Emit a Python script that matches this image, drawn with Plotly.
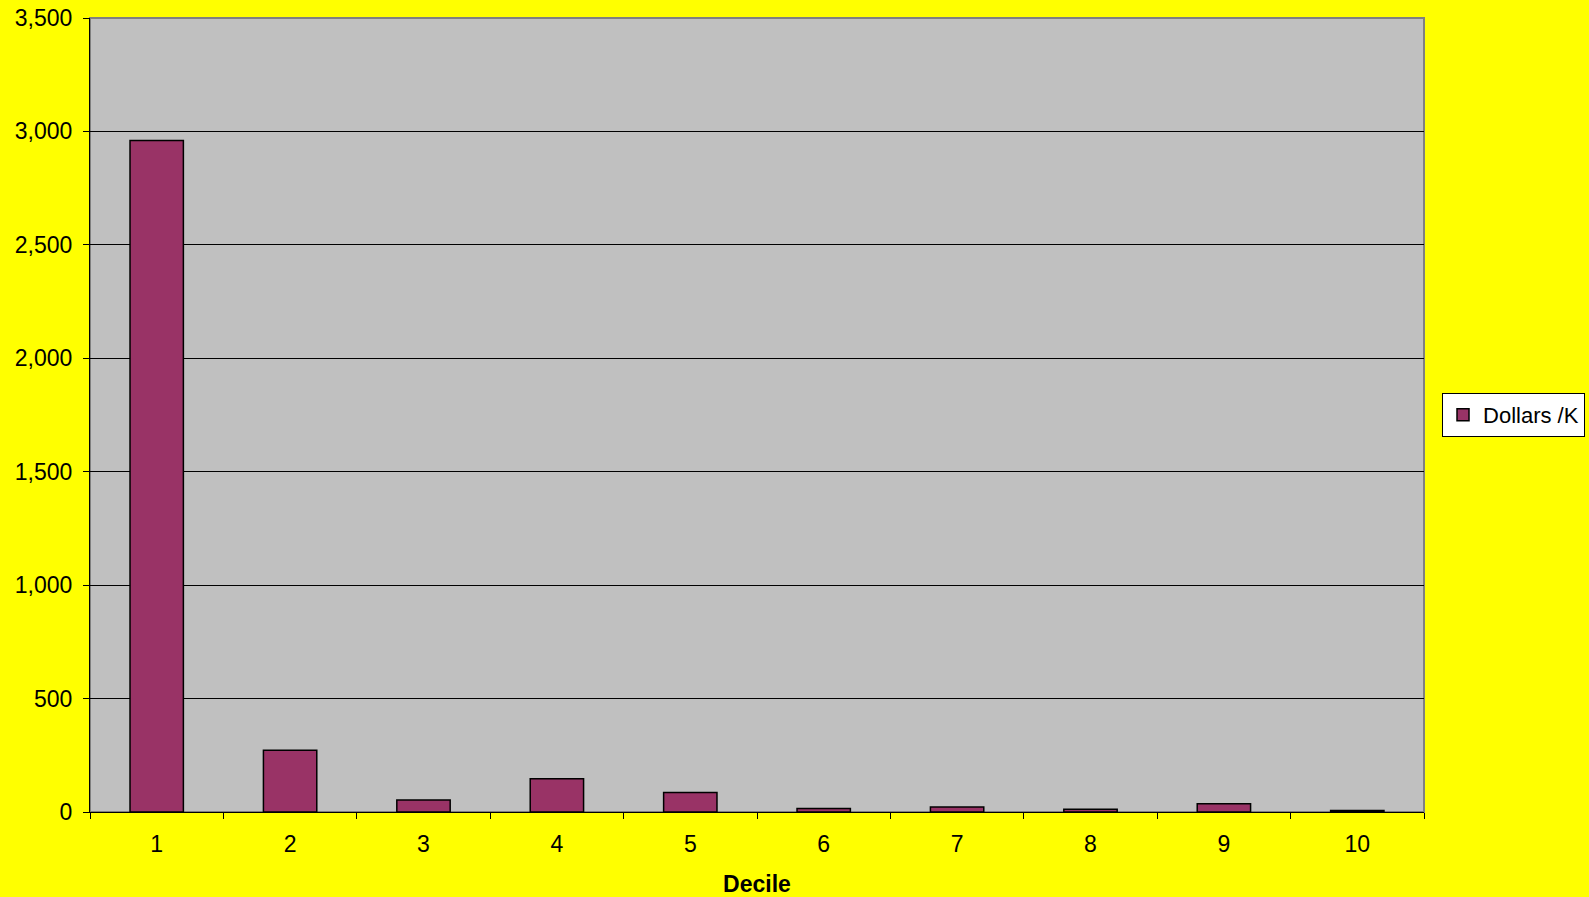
import plotly.graph_objects as go

categories = ["1", "2", "3", "4", "5", "6", "7", "8", "9", "10"]
values = [2960, 272, 53, 147, 86, 15, 22, 12, 36, 7]
series_name = "Dollars /K"
y_ticks = [0, 500, 1000, 1500, 2000, 2500, 3000, 3500]

fig = go.Figure()
fig.add_trace(go.Bar(
    x=categories, y=values, name=series_name,
    marker=dict(color="#993366", line=dict(color="#000000", width=1.5)),
))

fig.update_layout(
    width=1589, height=897,
    paper_bgcolor="#FFFF00", plot_bgcolor="#C0C0C0",
    margin=dict(l=90, r=165, t=18, b=85, autoexpand=False),
    bargap=0.6,
    font=dict(family="Liberation Sans, Arial, sans-serif", size=23, color="#000000"),
    showlegend=True,
    legend=dict(x=1.0135, y=0.5, xanchor="left", yanchor="middle",
                bgcolor="#FFFFFF", bordercolor="#000000", borderwidth=1,
                itemwidth=30, tracegroupgap=0,
                font=dict(size=22)),
    xaxis=dict(
        type="category", tickson="boundaries", ticks="outside", ticklen=6,
        tickcolor="#000000", showline=True, linecolor="#000000", linewidth=1,
        showgrid=False, ticklabelstandoff=11, automargin=False,
        tickfont=dict(size=23),
        title=dict(text="<b>Decile</b>", standoff=23, font=dict(size=23)),
    ),
    yaxis=dict(
        range=[0, 3500], tickvals=y_ticks, tickformat=",d", ticks="outside",
        ticklen=6, tickcolor="#000000", showline=True, linecolor="#000000",
        linewidth=1, showgrid=True, gridcolor="#000000", gridwidth=1,
        zeroline=False, automargin=False, ticklabelstandoff=6,
        tickfont=dict(size=23),
    ),
    shapes=[dict(type="rect", xref="paper", yref="paper", x0=0, x1=1, y0=0, y1=1,
                 line=dict(color="#808080", width=2), layer="below")],
)

fig.write_html("out.html")
